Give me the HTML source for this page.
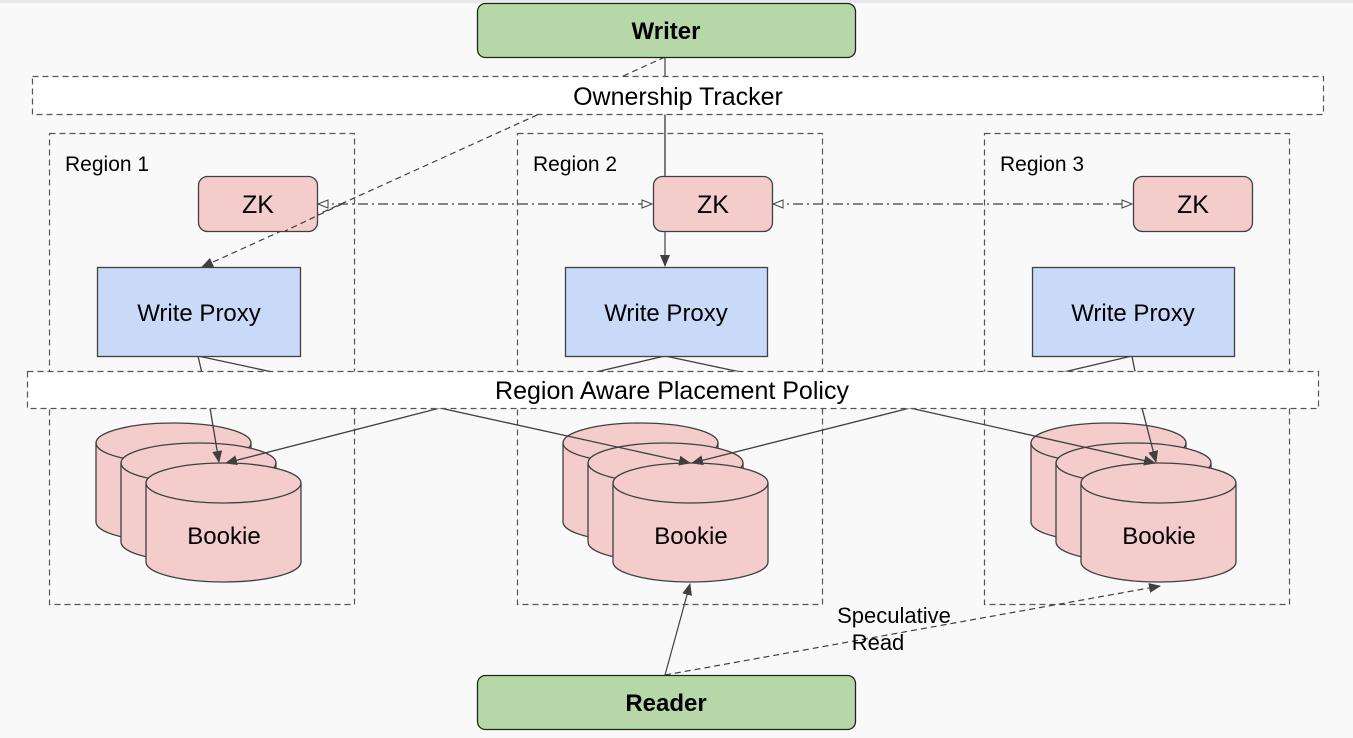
<!DOCTYPE html>
<html><head><meta charset="utf-8"><style>
html,body{margin:0;padding:0;background:#f9f9f9;}
svg{display:block;font-family:"Liberation Sans",Arial,sans-serif;}
</style></head><body>
<svg width="1353" height="738" viewBox="0 0 1353 738" xmlns="http://www.w3.org/2000/svg">
<defs>
<marker id="f" markerWidth="12" markerHeight="10" refX="11" refY="5" orient="auto" markerUnits="userSpaceOnUse"><path d="M0,0 L12,5 L0,10 z" fill="#404040"/></marker>
<marker id="o" markerWidth="12" markerHeight="10" refX="11" refY="5" orient="auto-start-reverse" markerUnits="userSpaceOnUse"><path d="M1,1 L11,5 L1,9 z" fill="#fff" stroke="#404040" stroke-width="1"/></marker>
<g id="cyl">
<path d="M0,20 L0,99 A77.5,20 0 0 0 155,99 L155,20 A77.5,20 0 0 0 0,20 z" fill="#f4cccc" stroke="#404040" stroke-width="1.3"/>
<path d="M0,20 A77.5,20 0 0 0 155,20" fill="none" stroke="#404040" stroke-width="1.3"/>
</g>
</defs>
<rect x="0" y="0" width="1353" height="3" fill="#e8e8e8"/>
<g fill="none" stroke="#555" stroke-width="1.2" stroke-dasharray="6,4">
<rect x="49.5" y="133.5" width="305" height="471"/>
<rect x="517.5" y="133.5" width="305" height="471"/>
<rect x="984.5" y="133.5" width="305" height="471"/>
</g>
<g font-size="21" fill="#000">
<text x="65" y="171">Region 1</text>
<text x="533" y="171">Region 2</text>
<text x="1000" y="171">Region 3</text>
</g>
<g>
<use href="#cyl" x="96" y="423"/><use href="#cyl" x="121" y="443"/><use href="#cyl" x="146" y="463"/>
<use href="#cyl" x="563" y="423"/><use href="#cyl" x="588" y="443"/><use href="#cyl" x="613" y="463"/>
<use href="#cyl" x="1031" y="423"/><use href="#cyl" x="1056" y="443"/><use href="#cyl" x="1081" y="463"/>
</g>
<g font-size="24" text-anchor="middle">
<text x="224" y="544">Bookie</text><text x="691" y="544">Bookie</text><text x="1159" y="544">Bookie</text>
</g>
<g fill="none" stroke="#404040" stroke-width="1.3">
<polyline points="198,356 210,408 219,462" marker-end="url(#f)"/>
<polyline points="198,356 440,408 690,463" marker-end="url(#f)"/>
<polyline points="665,356 440,408 226,463" marker-end="url(#f)"/>
<polyline points="665,356 910,408 1155,463" marker-end="url(#f)"/>
<polyline points="1132,356 910,408 692,463" marker-end="url(#f)"/>
<polyline points="1132,356 1142,408 1156,462" marker-end="url(#f)"/>
</g>
<rect x="27.5" y="371.5" width="1291" height="37" fill="#fff" stroke="#555" stroke-width="1.2" stroke-dasharray="6,4"/>
<text x="672" y="399" font-size="25" text-anchor="middle">Region Aware Placement Policy</text>
<g fill="#c9daf8" stroke="#404040" stroke-width="1.3">
<rect x="97.5" y="267.5" width="203" height="89"/>
<rect x="565.5" y="267.5" width="202" height="89"/>
<rect x="1032.5" y="267.5" width="202" height="89"/>
</g>
<g font-size="24" text-anchor="middle">
<text x="199" y="321">Write Proxy</text><text x="666" y="321">Write Proxy</text><text x="1133" y="321">Write Proxy</text>
</g>
<g fill="none" stroke="#404040" stroke-width="1.2">
<line x1="665" y1="57" x2="665" y2="176"/>
<line x1="665" y1="231" x2="665" y2="266" marker-end="url(#f)"/>
<line x1="665" y1="57" x2="202" y2="267" stroke-dasharray="6,4" marker-end="url(#f)"/>
</g>
<rect x="32.5" y="76.5" width="1291" height="38" fill="#fff" stroke="#555" stroke-width="1.2" stroke-dasharray="6,4"/>
<text x="678" y="105" font-size="25" text-anchor="middle">Ownership Tracker</text>
<line x1="665" y1="115" x2="665" y2="176" stroke="#404040" stroke-width="1.2"/>
<g fill="#f4cccc" stroke="#404040" stroke-width="1.3">
<rect x="198.5" y="176.5" width="119" height="55" rx="9"/>
<rect x="653.5" y="176.5" width="119" height="55" rx="9"/>
<rect x="1133.5" y="176.5" width="119" height="55" rx="9"/>
</g>
<line x1="342" y1="204" x2="285" y2="231" stroke="#404040" stroke-width="1.2" stroke-dasharray="6,4"/>
<g fill="none" stroke="#404040" stroke-width="1.2">
<line x1="318" y1="204" x2="652" y2="204" stroke-dasharray="10,4,2,4" marker-start="url(#o)" marker-end="url(#o)"/>
<line x1="773" y1="204" x2="1132" y2="204" stroke-dasharray="10,4,2,4" marker-start="url(#o)" marker-end="url(#o)"/>
</g>
<g font-size="25" text-anchor="middle">
<text x="258" y="213">ZK</text><text x="713" y="213">ZK</text><text x="1193" y="213">ZK</text>
</g>
<rect x="477.5" y="3.5" width="378" height="54" rx="8" fill="#b6d7a8" stroke="#222" stroke-width="1.3"/>
<text x="666" y="39" font-size="24" font-weight="bold" text-anchor="middle">Writer</text>
<g fill="none" stroke="#404040" stroke-width="1.2">
<line x1="665" y1="675" x2="690" y2="584" marker-end="url(#f)"/>
<line x1="665" y1="675" x2="1160" y2="586" stroke-dasharray="6,4" marker-end="url(#f)"/>
</g>
<text x="894" y="623" font-size="22" text-anchor="middle">Speculative</text>
<text x="878" y="650" font-size="22" text-anchor="middle">Read</text>
<rect x="477.5" y="675.5" width="378" height="54" rx="8" fill="#b6d7a8" stroke="#222" stroke-width="1.3"/>
<text x="666" y="711" font-size="24" font-weight="bold" text-anchor="middle">Reader</text>
</svg>
</body></html>
